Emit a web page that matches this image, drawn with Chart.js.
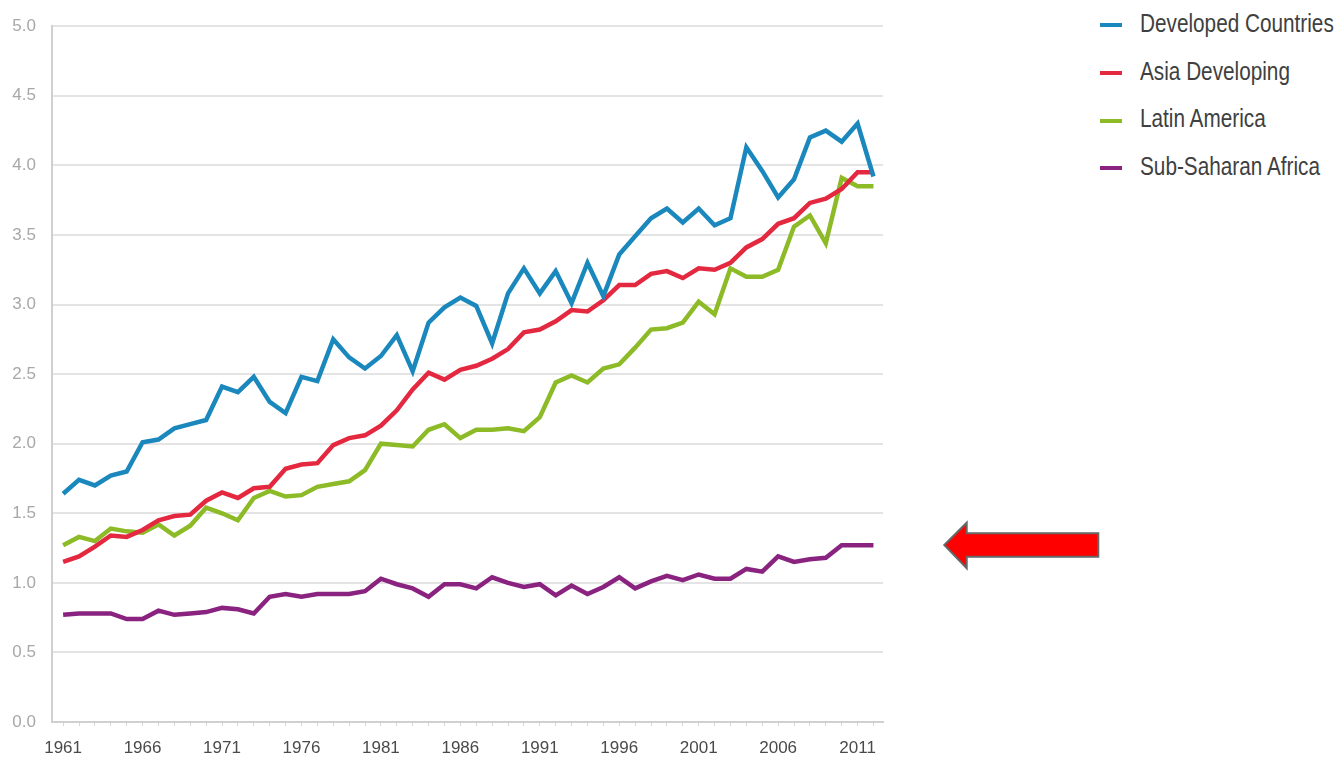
<!DOCTYPE html>
<html>
<head>
<meta charset="utf-8">
<script src="https://cdn.jsdelivr.net/npm/chart.js@4.4.1/dist/chart.umd.min.js"></script>
<style>
    html, body { margin: 0; padding: 0; background: #fff; }
    #wrap { position: relative; width: 1339px; height: 764px; overflow: hidden; }
    #plot { position: absolute; left: 0; top: 0; width: 900px; height: 764px; }
    #legend { position: absolute; left: 1100px; top: 0; font-family: 'Liberation Sans', Arial, sans-serif; font-size: 25px; color: #404040; }
    .row { height: 47.7px; line-height: 47.7px; white-space: nowrap; }
    .swatch { display: inline-block; width: 22px; height: 4px; margin-right: 18px; vertical-align: middle; }
    .name { display: inline-block; transform: scaleX(0.83); transform-origin: left center; }
    #arrow { position: absolute; left: 940px; top: 518px; }
</style>
</head>
<body>
<div id="wrap">
    <div id="plot"><canvas id="lineChart"></canvas></div>
    <div id="legend"></div>
    <svg id="arrow" width="165" height="56" viewBox="0 0 165 56">
        <polygon points="4.3,27 26.7,4.7 26.7,15.3 158.3,15.3 158.3,38.7 26.7,38.7 26.7,50.3" fill="#ff0000" stroke="#666666" stroke-width="2"/>
    </svg>
</div>
<script>
// Years on the x axis
const years = [1961, 1962, 1963, 1964, 1965, 1966, 1967, 1968, 1969, 1970,
               1971, 1972, 1973, 1974, 1975, 1976, 1977, 1978, 1979, 1980,
               1981, 1982, 1983, 1984, 1985, 1986, 1987, 1988, 1989, 1990,
               1991, 1992, 1993, 1994, 1995, 1996, 1997, 1998, 1999, 2000,
               2001, 2002, 2003, 2004, 2005, 2006, 2007, 2008, 2009, 2010,
               2011, 2012];
const tickLabels = ['1961', '1966', '1971', '1976', '1981', '1986', '1991', '1996', '2001', '2006', '2011'];

// Series values
const developedCountries = [1.64, 1.74, 1.70, 1.77, 1.80, 2.01, 2.03, 2.11, 2.14, 2.17,
                            2.41, 2.37, 2.48, 2.30, 2.22, 2.48, 2.45, 2.75, 2.62, 2.54,
                            2.63, 2.78, 2.52, 2.87, 2.98, 3.05, 2.99, 2.72, 3.08, 3.26,
                            3.08, 3.24, 3.01, 3.30, 3.06, 3.36, 3.49, 3.62, 3.69, 3.59,
                            3.69, 3.57, 3.62, 4.13, 3.96, 3.77, 3.90, 4.20, 4.25, 4.17,
                            4.30, 3.92];
const asiaDeveloping = [1.15, 1.19, 1.26, 1.34, 1.33, 1.38, 1.45, 1.48, 1.49, 1.59,
                        1.65, 1.61, 1.68, 1.69, 1.82, 1.85, 1.86, 1.99, 2.04, 2.06,
                        2.13, 2.24, 2.39, 2.51, 2.46, 2.53, 2.56, 2.61, 2.68, 2.80,
                        2.82, 2.88, 2.96, 2.95, 3.03, 3.14, 3.14, 3.22, 3.24, 3.19,
                        3.26, 3.25, 3.30, 3.41, 3.47, 3.58, 3.62, 3.73, 3.76, 3.83,
                        3.95, 3.95];
const latinAmerica = [1.27, 1.33, 1.30, 1.39, 1.37, 1.36, 1.42, 1.34, 1.41, 1.54,
                      1.50, 1.45, 1.61, 1.66, 1.62, 1.63, 1.69, 1.71, 1.73, 1.81,
                      2.00, 1.99, 1.98, 2.10, 2.14, 2.04, 2.10, 2.10, 2.11, 2.09,
                      2.19, 2.44, 2.49, 2.44, 2.54, 2.57, 2.69, 2.82, 2.83, 2.87,
                      3.02, 2.93, 3.26, 3.20, 3.20, 3.25, 3.56, 3.64, 3.44, 3.91,
                      3.85, 3.85];
const subSaharanAfrica = [0.77, 0.78, 0.78, 0.78, 0.74, 0.74, 0.80, 0.77, 0.78, 0.79,
                          0.82, 0.81, 0.78, 0.90, 0.92, 0.90, 0.92, 0.92, 0.92, 0.94,
                          1.03, 0.99, 0.96, 0.90, 0.99, 0.99, 0.96, 1.04, 1.00, 0.97,
                          0.99, 0.91, 0.98, 0.92, 0.97, 1.04, 0.96, 1.01, 1.05, 1.02,
                          1.06, 1.03, 1.03, 1.10, 1.08, 1.19, 1.15, 1.17, 1.18, 1.27,
                          1.27, 1.27];

const seriesNames = ['Developed Countries', 'Asia Developing', 'Latin America', 'Sub-Saharan Africa'];
const seriesColors = ['#1a88bd', '#e3283f', '#8dba27', '#8a2280'];
const seriesValues = [developedCountries, asiaDeveloping, latinAmerica, subSaharanAfrica];

// Legend on the right, built from the same arrays
const legend = document.getElementById('legend');
seriesNames.forEach((name, i) => {
    const row = document.createElement('div');
    row.className = 'row';
    row.innerHTML = `<span class="swatch" style="background:${seriesColors[i]}"></span><span class="name">${name}</span>`;
    legend.appendChild(row);
});

const tickFont = { family: "'Liberation Sans', Arial, sans-serif", size: 17 };

new Chart(document.getElementById('lineChart'), {
    type: 'line',
    data: {
        labels: years,
        datasets: seriesNames.map((name, i) => ({
            label: name,
            data: seriesValues[i],
            borderColor: seriesColors[i],
            backgroundColor: seriesColors[i],
            borderWidth: 4.5,
            pointRadius: 0,
            tension: 0,
            fill: false
        }))
    },
    options: {
        responsive: true,
        maintainAspectRatio: false,
        animation: false,
        layout: { padding: { top: 16, right: 17, left: 0, bottom: 0 } },
        plugins: {
            legend: { display: false },
            tooltip: { enabled: false }
        },
        scales: {
            x: {
                type: 'linear',
                min: 1960.3,
                max: 2012.6,
                afterBuildTicks: scale => {
                    scale.ticks = years.map(y => ({ value: y }));
                },
                afterFit: scale => { scale.height = 42; },
                ticks: {
                    autoSkip: false,
                    maxRotation: 0,
                    padding: 12,
                    color: '#4a4a4a',
                    font: tickFont,
                    callback: value => tickLabels.includes(String(value)) ? String(value) : ''
                },
                grid: {
                    drawOnChartArea: false,
                    drawTicks: true,
                    tickLength: 4,
                    color: '#d6d6d6'
                },
                border: { color: '#d0d0d0', width: 2 }
            },
            y: {
                min: 0,
                max: 5,
                afterFit: scale => { scale.width = 52; },
                ticks: {
                    stepSize: 0.5,
                    padding: 16,
                    color: '#a8a8a8',
                    font: tickFont,
                    callback: value => value.toFixed(1)
                },
                grid: {
                    color: '#e4e4e4',
                    lineWidth: 2,
                    drawTicks: false
                },
                border: { color: '#d0d0d0', width: 2 }
            }
        }
    }
});
</script>
</body>
</html>
